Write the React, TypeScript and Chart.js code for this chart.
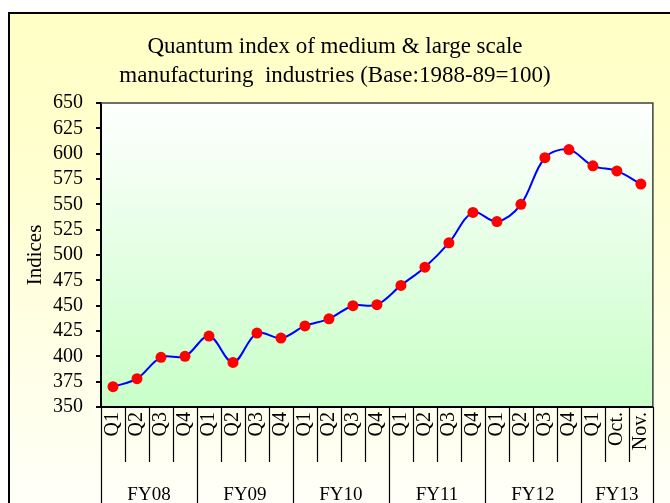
import React, { useEffect, useRef } from 'react';
import { Chart, registerables } from 'chart.js';

Chart.register(...registerables);

const TITLE_LINES = [
  'Quantum index of medium & large scale',
  'manufacturing  industries (Base:1988-89=100)',
];
const Y_TITLE = 'Indices';

const CATEGORY_LABELS = [
  'Q1', 'Q2', 'Q3', 'Q4',
  'Q1', 'Q2', 'Q3', 'Q4',
  'Q1', 'Q2', 'Q3', 'Q4',
  'Q1', 'Q2', 'Q3', 'Q4',
  'Q1', 'Q2', 'Q3', 'Q4',
  'Q1', 'Oct.', 'Nov.',
];
const GROUP_LABELS = ['FY08', 'FY09', 'FY10', 'FY11', 'FY12', 'FY13'];
const GROUP_SIZES = [4, 4, 4, 4, 4, 3];

const INDEX_VALUES = [
  370, 378, 399, 400,
  420, 394, 423, 418,
  430, 437, 450, 451,
  470, 488, 512, 542,
  533, 550, 596, 604,
  588, 583, 570,
];

const Y_MIN = 350;
const Y_MAX = 650;
const Y_STEP = 25;

const FONT = "'Liberation Serif', 'Times New Roman', serif";

const framePlugin = {
  id: 'frame',
  beforeDraw(chart: any) {
    const { ctx, width, height, chartArea: ca } = chart;
    ctx.save();
    ctx.fillStyle = '#ffffff';
    ctx.fillRect(0, 0, width, height);
    const g = ctx.createLinearGradient(0, 13, 0, height);
    g.addColorStop(0, '#FFFFC6');
    g.addColorStop(0.25, '#FFFFCC');
    g.addColorStop(1, '#FFFFF8');
    ctx.fillStyle = g;
    ctx.fillRect(9, 13, width, height);
    ctx.strokeStyle = '#000000';
    ctx.lineWidth = 2;
    ctx.beginPath();
    ctx.moveTo(9, height + 4);
    ctx.lineTo(9, 13);
    ctx.lineTo(width + 4, 13);
    ctx.stroke();

    const pg = ctx.createLinearGradient(0, ca.top, 0, ca.bottom);
    pg.addColorStop(0, '#FFFFFF');
    pg.addColorStop(1, '#C8FFC8');
    ctx.fillStyle = pg;
    ctx.fillRect(ca.left, ca.top, ca.right - ca.left, ca.bottom - ca.top);

    ctx.fillStyle = '#000000';
    ctx.font = `23px ${FONT}`;
    ctx.textAlign = 'center';
    ctx.textBaseline = 'alphabetic';
    TITLE_LINES.forEach((t, i) => ctx.fillText(t, 335, 53 + i * 29));
    ctx.restore();
  },
  beforeDatasetsDraw(chart: any) {
    const { ctx, chartArea: ca } = chart;
    ctx.save();
    ctx.strokeStyle = '#404040';
    ctx.lineWidth = 1.5;
    ctx.beginPath();
    ctx.moveTo(ca.left, ca.top);
    ctx.lineTo(ca.right, ca.top);
    ctx.lineTo(ca.right, ca.bottom);
    ctx.stroke();
    ctx.strokeStyle = '#000000';
    ctx.lineWidth = 2;
    ctx.beginPath();
    ctx.moveTo(ca.left, ca.bottom);
    ctx.lineTo(ca.right, ca.bottom);
    ctx.stroke();
    ctx.restore();
  },
  afterDraw(chart: any) {
    const { ctx, height, chartArea: ca } = chart;
    const xs = chart.scales.x;
    const n = CATEGORY_LABELS.length;
    const half = (xs.getPixelForValue(1) - xs.getPixelForValue(0)) / 2;
    const boundary = (k: number) =>
      k < n ? xs.getPixelForValue(k) - half : xs.getPixelForValue(n - 1) + half;
    const groupStarts: number[] = [];
    let acc = 0;
    GROUP_SIZES.forEach((s) => {
      groupStarts.push(acc);
      acc += s;
    });
    groupStarts.push(acc);
    ctx.save();
    ctx.strokeStyle = '#000000';
    ctx.lineWidth = 1.2;
    for (let k = 0; k <= n; k++) {
      const x = Math.round(boundary(k)) + 0.5;
      const long = groupStarts.includes(k);
      ctx.beginPath();
      ctx.moveTo(x, ca.bottom);
      ctx.lineTo(x, long ? height + 2 : 462);
      ctx.stroke();
    }
    ctx.fillStyle = '#000000';
    ctx.font = `19px ${FONT}`;
    ctx.textAlign = 'center';
    ctx.textBaseline = 'alphabetic';
    GROUP_LABELS.forEach((lab, i) => {
      const x0 = boundary(groupStarts[i]);
      const x1 = boundary(groupStarts[i + 1]);
      ctx.fillText(lab, (x0 + x1) / 2, 500);
    });
    ctx.restore();
  },
};

export default function App() {
  const canvasRef = useRef<HTMLCanvasElement | null>(null);

  useEffect(() => {
    const canvas = canvasRef.current;
    if (!canvas) return;
    const chart = new Chart(canvas, {
      type: 'line',
      data: {
        labels: CATEGORY_LABELS,
        datasets: [
          {
            data: INDEX_VALUES,
            borderColor: '#0000FF',
            borderWidth: 2,
            tension: 0.35,
            fill: false,
            pointRadius: 5.5,
            pointBackgroundColor: '#FF0000',
            pointBorderColor: '#FF0000',
            pointBorderWidth: 0,
          },
        ],
      },
      options: {
        responsive: false,
        animation: false,
        devicePixelRatio: 1,
        layout: { padding: { top: 103, left: 10, right: 2, bottom: 0 } },
        plugins: {
          legend: { display: false },
          tooltip: { enabled: false },
          title: { display: false },
        },
        scales: {
          x: {
            type: 'category',
            offset: true,
            grid: { display: false, drawTicks: false },
            border: { display: false },
            ticks: {
              autoSkip: false,
              maxRotation: 90,
              minRotation: 90,
              padding: 5,
              color: '#000000',
              font: { family: FONT, size: 20 },
            },
            afterFit: (s: any) => {
              s.height = 96;
            },
          },
          y: {
            min: Y_MIN,
            max: Y_MAX,
            ticks: {
              stepSize: Y_STEP,
              autoSkip: false,
              padding: 13,
              color: '#000000',
              font: { family: FONT, size: 20 },
            },
            grid: {
              drawOnChartArea: false,
              drawTicks: true,
              tickLength: 5,
              color: '#000000',
              lineWidth: 2,
            },
            border: { display: true, color: '#000000', width: 2 },
            title: {
              display: true,
              text: Y_TITLE,
              color: '#000000',
              font: { family: FONT, size: 21 },
              padding: { top: 13, bottom: 0 },
            },
            afterFit: (s: any) => {
              s.width = 91;
            },
          },
        },
      },
      plugins: [framePlugin],
    });
    return () => chart.destroy();
  }, []);

  return (
    <div style={{ position: 'absolute', left: 0, top: 0, width: 670, height: 503 }}>
      <canvas
        ref={canvasRef}
        width={670}
        height={503}
        style={{ display: 'block', width: 670, height: 503 }}
      />
    </div>
  );
}
